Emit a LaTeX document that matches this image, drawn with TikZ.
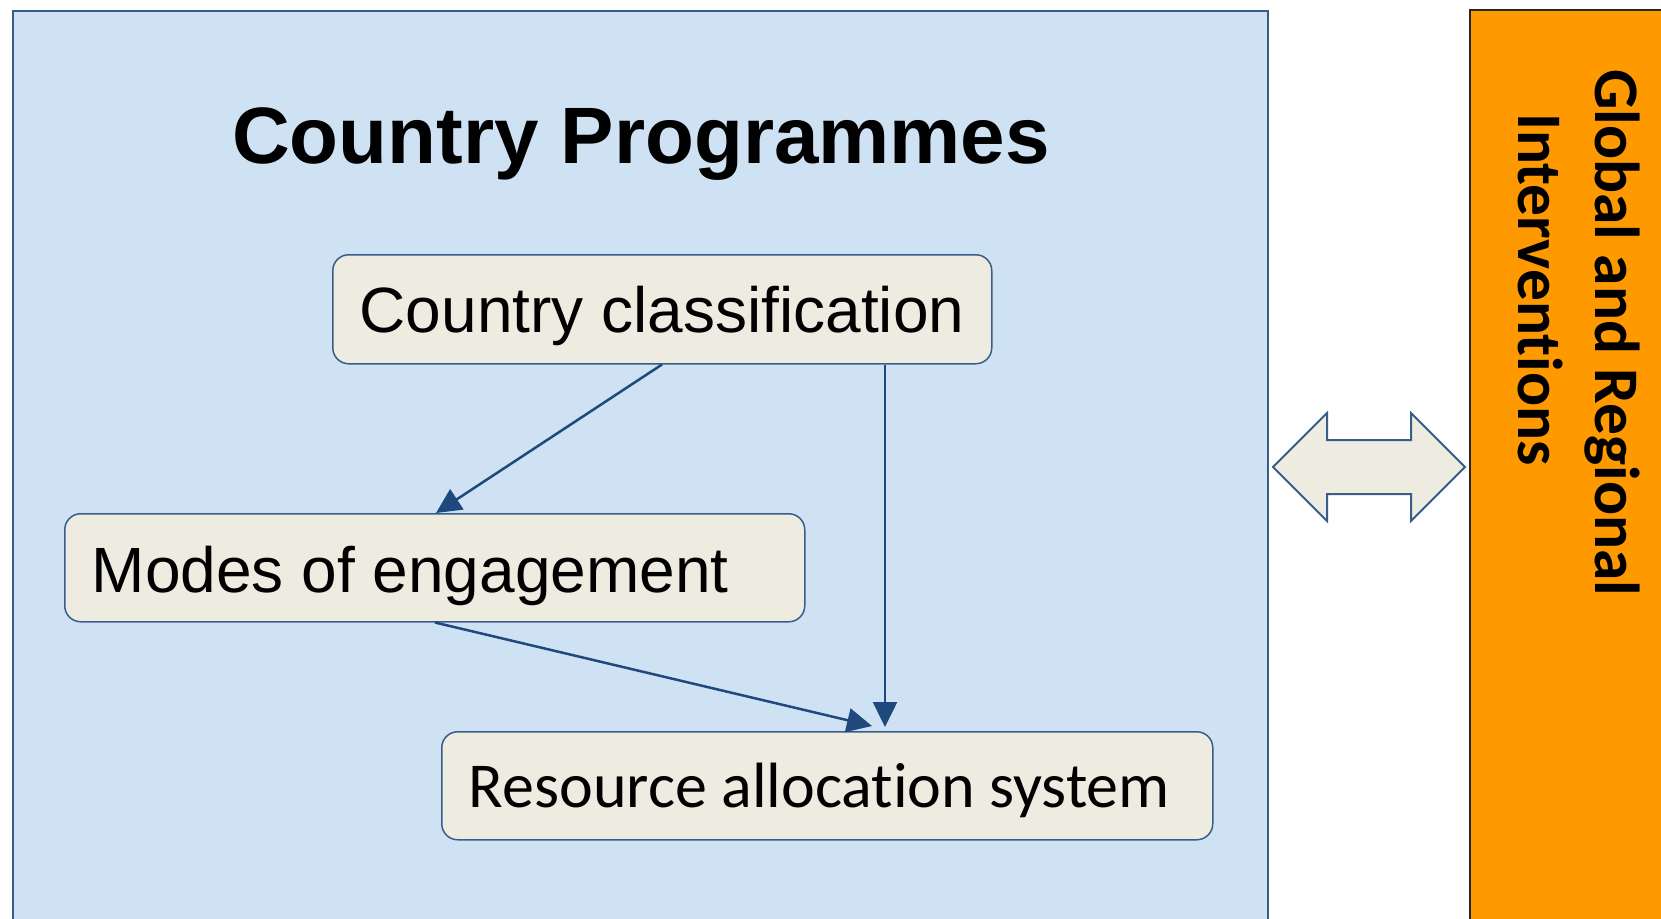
\documentclass[tikz,border=0pt]{standalone}
\usepackage{fontspec}
\usetikzlibrary{arrows.meta}
\newfontfamily\arialf{Liberation Sans}
\newfontfamily\calibrif[Ligatures=NoCommon]{Carlito}
\definecolor{panelfill}{RGB}{207,226,243}
\definecolor{paneledge}{RGB}{56,93,138}
\definecolor{boxfill}{RGB}{238,236,225}
\definecolor{boxedge}{RGB}{56,93,138}
\definecolor{arrowblue}{RGB}{31,73,125}
\definecolor{orangefill}{RGB}{255,153,0}
\tikzset{
  panel/.style={fill=panelfill, draw=paneledge, line width=1.5pt},
  sidepanel/.style={fill=orangefill, draw=black!85, line width=2pt},
  flowbox/.style={draw=boxedge, fill=boxfill, line width=1.5pt, rounded corners=16pt,
    inner xsep=27pt, inner ysep=0pt, anchor=north west, text depth=0pt},
  conn/.style={draw=arrowblue, line width=2.5pt, -{Triangle[length=25pt,width=24pt]}},
  dblarrow/.style={fill=boxfill, draw=boxedge, line width=2pt, line join=miter},
  sidetext/.style={rotate=-90, anchor=base west, inner sep=0pt,
    font=\calibrif\bfseries\fontsize{63.5}{70}\selectfont}
}
\begin{document}
\begin{tikzpicture}[x=1pt,y=-1pt]
\useasboundingbox (0,0) rectangle (1661,918);
\clip (0,0) rectangle (1661,918);
\fill[white] (0,0) rectangle (1661,918);

% main panel
\draw[panel] (13,11) rectangle (1268,950);
\node[anchor=base, inner sep=0pt, font=\arialf\bfseries\fontsize{80}{96}\selectfont] (title) at (641,163) {Country Programmes};

% side panel
\draw[sidepanel] (1470,10) rectangle (1690,950);
\node[sidetext] (glob) at (1595,69) {Global and Regional};
\node[sidetext] (interv) at (1518,113) {Interventions};

% double arrow
\draw[dblarrow] (1273,467) -- (1327,413) -- (1327,440) -- (1411,440) -- (1411,413)
  -- (1465,467) -- (1411,521) -- (1411,494) -- (1327,494) -- (1327,521) -- cycle;

% flow boxes
\node[flowbox, minimum height=109pt, text height=47pt,
  font=\arialf\fontsize{64}{70}\selectfont] (cc) at (332,254)
  {\makebox[605pt][l]{Country classification}};
\node[flowbox, minimum height=108pt, text height=50pt,
  font=\arialf\fontsize{64}{70}\selectfont] (mode) at (64,513)
  {\makebox[686pt][l]{Modes of engagement}};
\node[flowbox, minimum height=108pt, text height=44pt,
  font=\calibrif\fontsize{64}{70}\selectfont] (res) at (441,731)
  {\makebox[717pt][l]{Resource allocation system}};

% connectors
\draw[conn] ([xshift=330pt]cc.south west) -- ([xshift=372pt]mode.north west);
\draw[conn] ([xshift=371pt]mode.south west) -- ([shift={(431,-5)}]res.north west);
\draw[conn] ([xshift=553pt]cc.south west) -- ([shift={(444,-4)}]res.north west);
\end{tikzpicture}
\end{document}
